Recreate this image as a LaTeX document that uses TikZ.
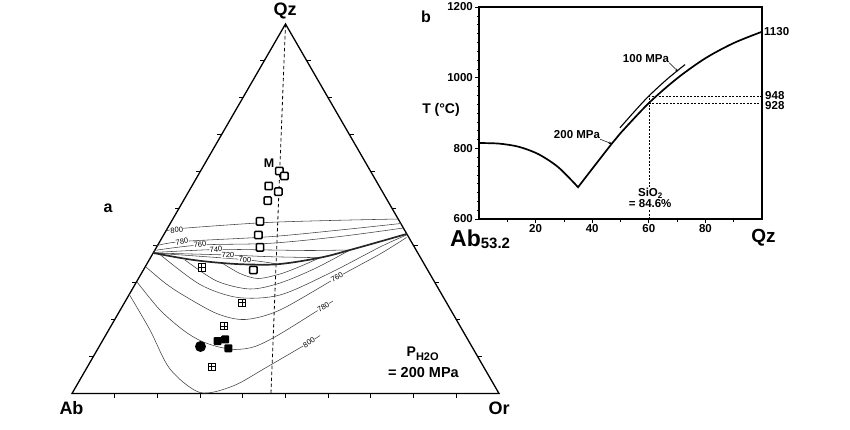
\documentclass[tikz,border=0pt]{standalone}
\usepackage{fontspec}
\setmainfont{Liberation Sans}
\usepackage{tikz}
\usetikzlibrary{arrows.meta, calc}

\tikzset{
  iso/.style={black!75, line width=0.55pt},
  isolbl/.style={font=\fontsize{7.5}{8}\selectfont, fill=white, inner sep=0.4pt},
  qzsq/.style={draw, line width=1.5pt, fill=white, rounded corners=1pt, minimum size=7.4pt, inner sep=0pt},
  crsq/.style={draw, line width=0.8pt, fill=white, minimum size=7.4pt, inner sep=0pt,
    path picture={\draw[line width=0.7pt] (path picture bounding box.north) -- (path picture bounding box.south)
      (path picture bounding box.west) -- (path picture bounding box.east);}},
  blsq/.style={fill=black, rounded corners=1pt, minimum size=8pt, inner sep=0pt},
  num/.style={font=\fontsize{11.5}{12}\selectfont\bfseries, inner sep=0pt},
  big/.style={font=\fontsize{18}{18}\selectfont\bfseries, inner sep=0pt},
}

\begin{document}
\begin{tikzpicture}[x=1pt, y=-1pt]
\useasboundingbox (0,0) rectangle (850,430);

% a: Qz-Ab-Or triangle
\coordinate (Ab) at (72,393.5);
\coordinate (Or) at (499,393.5);
\coordinate (Qz) at (285.5,24);
\coordinate (Abq) at ($(Ab)!0.466!(Or)$);
\draw[line width=1.3pt] (Ab) -- (Or) -- (Qz) -- cycle;
\foreach \i in {1,...,9} {
  \draw[line width=0.9pt] ($(Ab)!\i/10!(Or)$) -- ++(0,4);
  \draw[line width=0.9pt] ($(Ab)!\i/10!(Qz)$) -- ++(-4,0);
  \draw[line width=0.9pt] ($(Or)!\i/10!(Qz)$) -- ++(4,0);
}
\draw[dash pattern=on 3.5pt off 2.5pt, line width=0.8pt] (Qz) -- (Abq);

% isotherms, quartz field
\draw[iso] plot[smooth] coordinates {(166,231) (183,228.3) (263,222.7) (330,220.5) (398.2,219)};
\draw[iso] plot[smooth] coordinates {(155,246) (182,241.5) (270,236.7) (340,230) (400.8,223.5)};
\draw[iso] plot[smooth] coordinates {(154,250.5) (200,245) (270,243.3) (340,236.5) (403.4,228)};
\draw[iso] plot[smooth] coordinates {(153.5,252.5) (216,249.5) (270,250) (310,250.5) (350,250)};
\draw[iso] plot[smooth] coordinates {(153.5,253) (228,255) (270,256.7) (320,257.7)};
\draw[iso] plot[smooth] coordinates {(153.5,253) (245,259.7) (277,264)};
\node[isolbl, rotate=5] (q800) at (176.7,230) {800};
\node[isolbl, rotate=9] (q780) at (182,241.5) {780};
\node[isolbl, rotate=6] (q760) at (200,244.5) {760};
\node[isolbl, rotate=3] (q740) at (216,249.5) {740};
\node[isolbl, rotate=-2] (q720) at (228,255) {720};
\node[isolbl, rotate=-4] (q700) at (245,259.7) {700};

% isotherms, feldspar field
\draw[iso] plot[smooth] coordinates {(222,263) (240,273.5) (258,278.5) (280,274) (300,266.5) (320,257.7)};
\draw[iso] plot[smooth] coordinates {(185,260) (216.7,281) (250,289) (280,283) (315,268.5) (350,250)};
\draw[iso] plot[smooth] coordinates {(160,254.5) (200,284.5) (238,297.5) (280,295) (330,273) (380,247) (406.5,235)};
\draw[iso] plot[smooth] coordinates {(146,267) (165,283) (183,295) (216.7,313.5) (245,319.5) (280,310) (337,277.5) (380,254) (406.5,237.5)};
\draw[iso] plot[smooth] coordinates {(137,282) (160,310) (183,330) (200,340.5) (217,346.5) (235,349.5) (255,346.5) (280,334) (323.3,307) (333,301)};
\draw[iso] plot[smooth] coordinates {(129,294) (150,330) (170,369) (200,392.5) (233,386) (267,367) (309,342.5) (320,335.5)};
\node[isolbl, rotate=30] (f760) at (337,277.5) {760};
\node[isolbl, rotate=31] (f780) at (323.3,307) {780};
\node[isolbl, rotate=32] (f800) at (309,342.5) {800};

% cotectic
\draw[line width=1.7pt, black!85] plot[smooth, tension=0.6] coordinates {(153.5,253) (190,259.5) (222,263) (250,264.5) (280,264) (320,257.7) (350,250) (406.5,234)};

% samples
\foreach \p [count=\k] in {(279.3,171), (284.3,176), (268.7,186), (278.3,191.7), (267.7,200.7), (260,221.3), (258.3,235), (260,247.3), (253.3,270)}
  \node[qzsq] (h\k) at \p {};
\foreach \p [count=\k] in {(201.7,267.5), (242,302.7), (224,326), (211.7,366.7)}
  \node[crsq] (c\k) at \p {};
\foreach \p [count=\k] in {(217.5,341), (225.2,339.3), (228.3,348.3)}
  \node[blsq] (s\k) at \p {};
\fill (200.5,346.5) circle (5.5);

% labels a
\node[font=\fontsize{12.5}{13}\selectfont\bfseries, inner sep=0pt] (M) at (269,163) {M};
\node[big] (lQz) at (285,11) {Qz};
\node[big] (lAb) at (71.5,408.5) {Ab};
\node[big] (lOr) at (499,408.5) {Or};
\node[font=\fontsize{16}{16}\selectfont\bfseries, inner sep=0pt] (la) at (108,208) {a};
\node[font=\fontsize{14}{14}\selectfont\bfseries, inner sep=0pt, anchor=base west] (pw) at (406.5,356.7)
  {P\raisebox{-3.3pt}{\fontsize{11}{11}\selectfont H2O}};
\node[font=\fontsize{14.5}{15}\selectfont\bfseries, inner sep=0pt, anchor=base] (pv) at (423.5,377) {= 200 MPa};

% b: T-x section
\node[font=\fontsize{16}{16}\selectfont\bfseries, inner sep=0pt] (lb) at (426,17) {b};
\node[font=\fontsize{14}{14}\selectfont\bfseries, inner sep=0pt] (lT) at (441,110) {T (°C)};
\node[font=\fontsize{23}{23}\selectfont\bfseries, inner sep=0pt, anchor=base west] (lAb2) at (450,246.5)
  {Ab\raisebox{-2pt}{\fontsize{15}{15}\selectfont 53.2}};
\node[font=\fontsize{19}{19}\selectfont\bfseries, inner sep=0pt] (lQz2) at (763.5,238) {Qz};

\begin{scope}[shift={(479,431)}, x=2.83pt, y=0.35333pt]
  \draw[line width=1.1pt] (0,600) rectangle (100,1200);
  \foreach \T in {625,650,...,1175} \draw[line width=0.5pt] (0,\T) -- ++(-0.8,0);
  \foreach \T in {600,800,1000,1200} {
    \draw[line width=0.8pt] (0,\T) -- ++(-1.4,0);
    \node[num, anchor=east] (y\T) at (-2.1,\T) {\T};
  }
  \foreach \x in {10,30,...,90} \draw[line width=0.6pt] (\x,600) -- ++(0,-8);
  \foreach \x in {20,40,...,80} {
    \draw[line width=0.8pt] (\x,600) -- ++(0,-11);
    \node[num] (x\x) at (\x,572) {\x};
  }
  % dashed reading lines
  \draw[dash pattern=on 2pt off 1.5pt, line width=0.6pt] (60,600) -- (60,948) -- (100,948);
  \draw[dash pattern=on 2pt off 1.5pt, line width=0.6pt] (60,928) -- (100,928);
  % liquidus 200 MPa
  \draw[line width=1.7pt] plot[smooth] coordinates {(0,815) (7,813.4) (14,804.5) (21,783.5) (28,746.6) (35,690)}
    -- plot[smooth] coordinates {(35,690) (40,742) (47,814) (50,843) (60,928) (70,998) (80,1055) (90,1098) (100,1130)};
  % 100 MPa
  \draw[line width=1.1pt] plot[smooth] coordinates {(49.8,858) (55,905) (60,948) (66.5,996) (72.8,1037)};
  \coordinate (p100) at (70.3,1018);
  \coordinate (p200) at (46.9,813);
  \node[num, fill=white, inner sep=1pt, align=center] (si) at (60.5,660)
    {SiO\raisebox{-2pt}{\fontsize{8}{8}\selectfont 2}\\[-1pt]= 84.6\%};
\end{scope}

\node[num] (l100) at (646,58.5) {100 MPa};
\node[num] (l200) at (577,135) {200 MPa};
\draw[line width=0.5pt, -{Stealth[length=3pt, width=2.5pt]}] (l100.south east) -- (p100);
\draw[line width=0.5pt, -{Stealth[length=3pt, width=2.5pt]}] (l200.south east) -- (p200);
\node[num, anchor=west] (r1130) at (764,32) {1130};
\node[num, anchor=west] (r948) at (765,96) {948};
\node[num, anchor=west] (r928) at (765,106) {928};
\end{tikzpicture}
\end{document}
